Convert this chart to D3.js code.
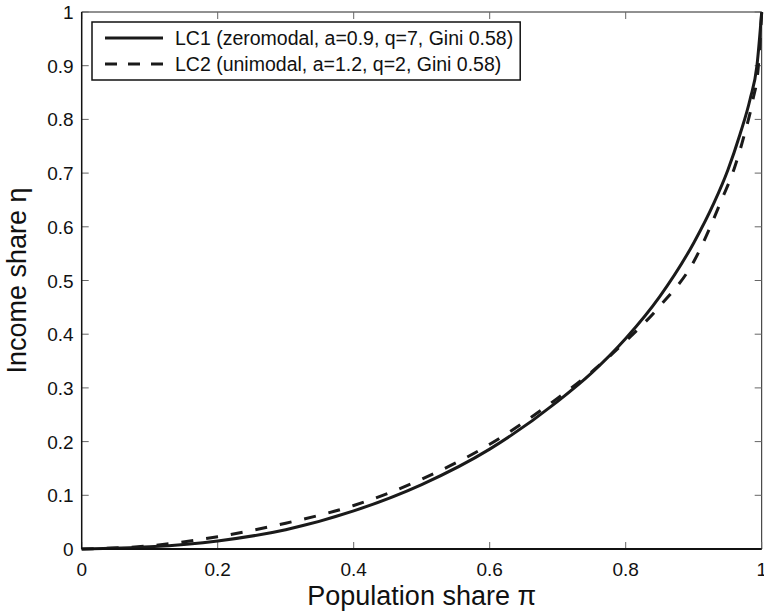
<!DOCTYPE html>
<html>
<head>
<meta charset="utf-8">
<script src="https://cdn.jsdelivr.net/npm/d3@7"></script>
<style>
  body { margin: 0; background: #fff; }
  text { font-family: "Liberation Sans", Arial, Helvetica, sans-serif; fill: #111; }
</style>
</head>
<body>
<svg id="chart" width="764" height="616"></svg>
<script>
// values
const popShare1 = [0, 0.1, 0.2, 0.3, 0.4, 0.5, 0.6, 0.7, 0.75, 0.8, 0.85, 0.9, 0.93, 0.95, 0.968, 0.983, 0.993, 1.0];
const incShare1 = [0, 0.004, 0.015, 0.036, 0.071, 0.12, 0.186, 0.275, 0.328, 0.392, 0.47, 0.57, 0.645, 0.705, 0.772, 0.838, 0.9, 1.0];
const popShare2 = [0, 0.1, 0.2, 0.3, 0.4, 0.5, 0.6, 0.7, 0.75, 0.8, 0.85, 0.9, 0.941, 0.96, 0.975, 0.987, 0.995, 1.0];
const incShare2 = [0, 0.006, 0.023, 0.048, 0.081, 0.13, 0.195, 0.281, 0.33, 0.387, 0.452, 0.535, 0.65, 0.71, 0.774, 0.836, 0.898, 1.0];
const xTicks = [0, 0.2, 0.4, 0.6, 0.8, 1];
const yTicks = [0, 0.1, 0.2, 0.3, 0.4, 0.5, 0.6, 0.7, 0.8, 0.9, 1];
const seriesNames = ["LC1 (zeromodal, a=0.9, q=7, Gini 0.58)", "LC2 (unimodal, a=1.2, q=2, Gini 0.58)"];

const svg = d3.select("#chart");
const margin = {left: 81.7, right: 2.3, top: 12, bottom: 67};
const width = 764, height = 616;

let x = d3.scaleLinear().domain([0, 1]).range([margin.left, width - margin.right]);
let y = d3.scaleLinear().domain([0, 1]).range([height - margin.bottom, margin.top]);

svg.append("rect").attr("width", width).attr("height", height).attr("fill", "#fff");

// box (top / right)
svg.append("line")
    .attr("x1", x(0)).attr("x2", x(1)).attr("y1", y(1)).attr("y2", y(1))
    .attr("stroke", "#222").attr("stroke-width", 1);
svg.append("line")
    .attr("x1", x(1)).attr("x2", x(1)).attr("y1", y(0)).attr("y2", y(1))
    .attr("stroke", "#222").attr("stroke-width", 1);

// ticks pointing inward on all four sides
const tickLen = 7;
xTicks.forEach(t => {
    svg.append("line").attr("x1", x(t)).attr("x2", x(t)).attr("y1", y(0)).attr("y2", y(0) - tickLen)
        .attr("stroke", "#666").attr("stroke-width", 1);
    svg.append("line").attr("x1", x(t)).attr("x2", x(t)).attr("y1", y(1)).attr("y2", y(1) + tickLen)
        .attr("stroke", "#666").attr("stroke-width", 1);
    svg.append("text")
        .attr("x", x(t)).attr("y", y(0) + 27)
        .attr("text-anchor", "middle")
        .style("font-size", "19px")
        .text(d3.format("~g")(t));
});
yTicks.forEach(t => {
    svg.append("line").attr("x1", x(0)).attr("x2", x(0) + tickLen).attr("y1", y(t)).attr("y2", y(t))
        .attr("stroke", "#666").attr("stroke-width", 1);
    svg.append("line").attr("x1", x(1)).attr("x2", x(1) - tickLen).attr("y1", y(t)).attr("y2", y(t))
        .attr("stroke", "#666").attr("stroke-width", 1);
    svg.append("text")
        .attr("x", x(0) - 8).attr("y", y(t) + 7)
        .attr("text-anchor", "end")
        .style("font-size", "19px")
        .text(d3.format("~g")(t));
});

// curves
const line = d3.line()
    .x(d => x(d[0]))
    .y(d => y(d[1]))
    .curve(d3.curveMonotoneX);

const data1 = popShare1.map((p, i) => [p, incShare1[i]]);
const data2 = popShare2.map((p, i) => [p, incShare2[i]]);

svg.append("path").datum(data2)
    .attr("d", line)
    .attr("fill", "none").attr("stroke", "#1a1a1a").attr("stroke-width", 3)
    .attr("stroke-dasharray", "12,13");
svg.append("path").datum(data1)
    .attr("d", line)
    .attr("fill", "none").attr("stroke", "#1a1a1a").attr("stroke-width", 3);

// left / bottom axis lines
svg.append("line")
    .attr("x1", x(0)).attr("x2", x(1)).attr("y1", y(0)).attr("y2", y(0))
    .attr("stroke", "#111").attr("stroke-width", 2);
svg.append("line")
    .attr("x1", x(0)).attr("x2", x(0)).attr("y1", y(0)).attr("y2", y(1))
    .attr("stroke", "#111").attr("stroke-width", 1.5);

// axis labels
svg.append("text")
    .attr("x", (x(0) + x(1)) / 2).attr("y", 605)
    .attr("text-anchor", "middle")
    .style("font-size", "27px")
    .text("Population share π");
svg.append("text")
    .attr("transform", `translate(26, ${(y(0) + y(1)) / 2}) rotate(-90)`)
    .attr("text-anchor", "middle")
    .style("font-size", "27px")
    .text("Income share η");

// legend
const legend = svg.append("g");
const legX = 92, legY = 22;
const rows = [0, 1].map(i => legend.append("text")
    .attr("x", legX + 83).attr("y", legY + 23 + i * 26)
    .style("font-size", "19.5px")
    .text(seriesNames[i]));
let textW = d3.max(rows, r => r.node().getComputedTextLength());
legend.insert("rect", "text")
    .attr("x", legX).attr("y", legY)
    .attr("width", 83 + textW + 7).attr("height", 58)
    .attr("fill", "#fff").attr("stroke", "#111").attr("stroke-width", 1.5);
legend.append("line")
    .attr("x1", legX + 13).attr("x2", legX + 71)
    .attr("y1", legY + 16).attr("y2", legY + 16)
    .attr("stroke", "#1a1a1a").attr("stroke-width", 3);
legend.append("line")
    .attr("x1", legX + 13).attr("x2", legX + 71)
    .attr("y1", legY + 42).attr("y2", legY + 42)
    .attr("stroke", "#1a1a1a").attr("stroke-width", 3)
    .attr("stroke-dasharray", "12,11");
</script>
</body>
</html>
